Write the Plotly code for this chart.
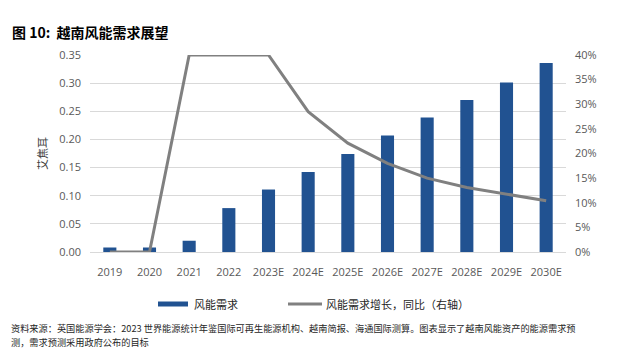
import plotly.graph_objects as go

years = ["2019", "2020", "2021", "2022", "2023E", "2024E", "2025E", "2026E",
         "2027E", "2028E", "2029E", "2030E"]
demand = [0.008, 0.008, 0.020, 0.078, 0.111, 0.142, 0.174, 0.207, 0.239, 0.270, 0.301, 0.336]
growth = [0.0, 0.0, 0.40, 0.40, 0.40, 0.285, 0.221, 0.180, 0.150, 0.131, 0.117, 0.104]

left_ticks = [0, 0.05, 0.10, 0.15, 0.20, 0.25, 0.30, 0.35]
right_ticks = [0, 0.05, 0.10, 0.15, 0.20, 0.25, 0.30, 0.35, 0.40]

BAR = "#215291"
LINE = "#808080"
CJK = "Noto Sans CJK SC"
TICKFONT = dict(family="Open Sans", size=11, color="#595959")

W, H = 622, 350
L, R, T, B = 90, 56, 55, 98
pw, ph = W - L - R, H - T - B


def px(x):
    return (x - L) / pw


def py(y):
    return (H - B - y) / ph


fig = go.Figure()
fig.add_trace(go.Bar(x=years, y=demand, marker_color=BAR, marker_line_width=0,
                     name="风能需求", showlegend=False))
fig.add_trace(go.Scatter(x=years, y=growth, yaxis="y2", mode="lines",
                         line=dict(color=LINE, width=3), name="风能需求增长，同比（右轴）",
                         showlegend=False, cliponaxis=False))

fig.update_layout(
    width=W, height=H, margin=dict(l=L, r=R, t=T, b=B),
    paper_bgcolor="white", plot_bgcolor="white",
    bargap=0.67,
    xaxis=dict(type="category", range=[-0.5, 11.5], showgrid=False, showline=True,
               linecolor="#D9D9D9", linewidth=1, ticks="", tickfont=TICKFONT,
               ticklabelstandoff=10),
    yaxis=dict(range=[0, 0.35], tickvals=left_ticks, tickformat=".2f", showgrid=True,
               gridcolor="#D9D9D9", gridwidth=1, zeroline=False, showline=False,
               ticks="", tickfont=TICKFONT, ticklabelstandoff=8),
    yaxis2=dict(range=[0, 0.40], tickvals=right_ticks, tickformat=".0%", overlaying="y",
                side="right", showgrid=False, zeroline=False, showline=False, ticks="",
                tickfont=TICKFONT, ticklabelstandoff=8),
    font=dict(family=CJK),
)

# title
fig.add_annotation(x=px(10), y=py(32), xref="paper", yref="paper", xanchor="left",
                   yanchor="middle", showarrow=False,
                   text="<b>图 10:&nbsp;&nbsp;越南风能需求展望</b>",
                   font=dict(family=CJK, size=14, color="#000000"))
# y axis title
fig.add_annotation(x=px(42), y=py(154), xref="paper", yref="paper", xanchor="center",
                   yanchor="middle", showarrow=False, textangle=-90, text="艾焦耳",
                   font=dict(family=CJK, size=11, color="#404040"))

# legend
fig.add_shape(type="rect", xref="paper", yref="paper", x0=px(158), x1=px(188),
              y0=py(301.5), y1=py(306.5), fillcolor=BAR, line_width=0)
fig.add_annotation(x=px(192), y=py(304), xref="paper", yref="paper", xanchor="left",
                   yanchor="middle", showarrow=False, text="风能需求",
                   font=dict(family=CJK, size=11, color="#262626"))
fig.add_shape(type="line", xref="paper", yref="paper", x0=px(288), x1=px(322),
              y0=py(304), y1=py(304), line=dict(color=LINE, width=3))
fig.add_annotation(x=px(324), y=py(304), xref="paper", yref="paper", xanchor="left",
                   yanchor="middle", showarrow=False, text="风能需求增长，同比（右轴）",
                   font=dict(family=CJK, size=11, color="#262626"))

# footer
fig.add_annotation(x=px(10), y=py(328), xref="paper", yref="paper", xanchor="left",
                   yanchor="middle", showarrow=False, borderpad=0,
                   text="资料来源：英国能源学会：2023 世界能源统计年鉴国际可再生能源机构、越南简报、海通国际测算。图表显示了越南风能资产的能源需求预",
                   font=dict(family=CJK, size=9.2, color="#262626"))
fig.add_annotation(x=px(10), y=py(342), xref="paper", yref="paper", xanchor="left",
                   yanchor="middle", showarrow=False, borderpad=0,
                   text="测，需求预测采用政府公布的目标",
                   font=dict(family=CJK, size=9.2, color="#262626"))

fig.write_html("out.html")
